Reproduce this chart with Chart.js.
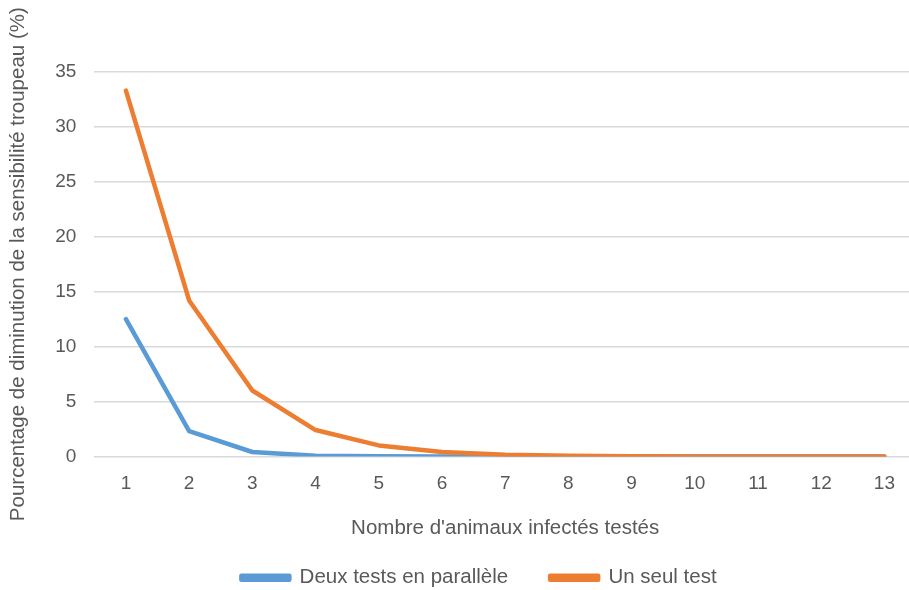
<!DOCTYPE html>
<html>
<head>
<meta charset="utf-8">
<script src="https://cdn.jsdelivr.net/npm/chart.js@4"></script>
<style>
  html, body { margin: 0; padding: 0; background: #fff; overflow: hidden; }
  #wrap { width: 916px; height: 590px; }
</style>
</head>
<body>
<div id="wrap"><canvas id="chart" width="916" height="590"></canvas></div>
<script>
// Data
const categories = ["1", "2", "3", "4", "5", "6", "7", "8", "9", "10", "11", "12", "13"];
const deuxTests = [12.5, 2.3, 0.4, 0.05, 0.01, 0, 0, 0, 0, 0, 0, 0, 0];
const unSeulTest = [33.3, 14.2, 6.0, 2.4, 1.0, 0.4, 0.15, 0.05, 0.02, 0, 0, 0, 0];
const yTicks = [0, 5, 10, 15, 20, 25, 30, 35];

const textColor = "#595959";
const fontFamily = "'Liberation Sans', Arial, sans-serif";

// the legend in the reference sits a bit right of centre
const legendShift = {
  id: "legendShift",
  beforeDraw: (chart) => {
    chart.legend.left += 18;
    chart.legend.right += 18;
  },
};

const ctx = document.getElementById("chart").getContext("2d");
const chart = new Chart(ctx, {
  type: "line",
  data: {
    labels: categories,
    datasets: [
      {
        label: "Deux tests en parallèle",
        data: deuxTests,
        borderColor: "#5B9BD5",
        backgroundColor: "#5B9BD5",
        borderWidth: 4.5,
        borderJoinStyle: "round",
        borderCapStyle: "round",
        pointRadius: 0,
        tension: 0,
        order: 1,
      },
      {
        label: "Un seul test",
        data: unSeulTest,
        borderColor: "#ED7D31",
        backgroundColor: "#ED7D31",
        borderWidth: 4.5,
        borderJoinStyle: "round",
        borderCapStyle: "round",
        pointRadius: 0,
        tension: 0,
        order: 0,
      },
    ],
  },
  options: {
    responsive: false,
    animation: false,
    layout: { padding: { left: 6, right: 0, top: 72, bottom: -8 } },
    plugins: {
      legend: {
        position: "bottom",
        labels: {
          color: textColor,
          font: { family: fontFamily, size: 20.5 },
          boxWidth: 48,
          boxHeight: 4,
          padding: 42,
          sort: (a, b) => a.datasetIndex - b.datasetIndex,
        },
      },
      tooltip: { enabled: false },
    },
    scales: {
      x: {
        offset: true,
        grid: { display: false, drawTicks: false },
        border: { display: false },
        ticks: { color: textColor, font: { family: fontFamily, size: 19 }, padding: 16 },
        title: {
          display: true,
          text: "Nombre d'animaux infectés testés",
          color: textColor,
          font: { family: fontFamily, size: 20.5 },
          padding: { top: 5, bottom: -15.3 },
        },
      },
      y: {
        min: 0,
        max: 35,
        afterBuildTicks: (axis) => { axis.ticks = yTicks.map((v) => ({ value: v })); },
        grid: { color: "#D9D9D9", lineWidth: 1.5, drawTicks: false },
        border: { display: false },
        ticks: { color: textColor, font: { family: fontFamily, size: 19 }, padding: 18 },
        title: {
          display: true,
          text: "Pourcentage de diminution de la sensibilité troupeau (%)",
          color: textColor,
          font: { family: fontFamily, size: 20.5 },
          padding: { top: 0, bottom: 6.6 },
        },
      },
    },
  },
  plugins: [legendShift],
});
</script>
</body>
</html>
